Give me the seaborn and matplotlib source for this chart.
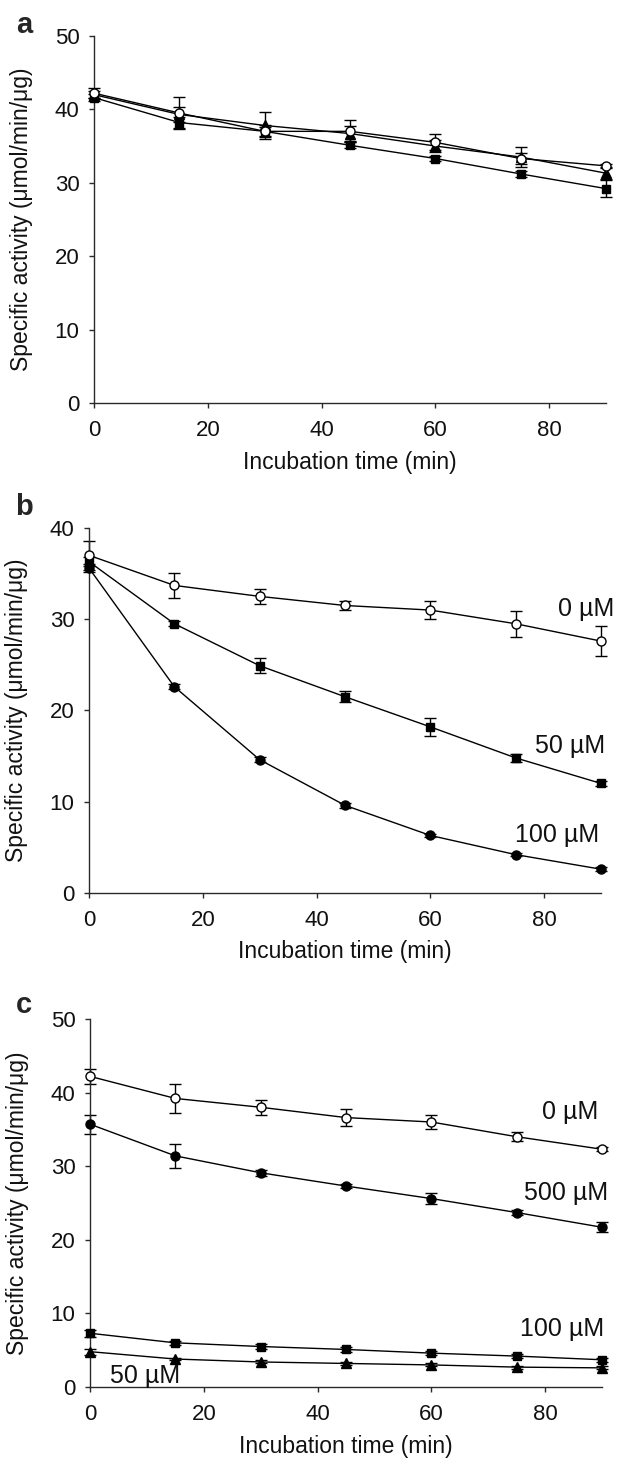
import numpy as np
import pandas as pd
import matplotlib
matplotlib.use("Agg")
import matplotlib.pyplot as plt
import seaborn as sns

# incubation time points (min)
time_min = [0, 15, 30, 45, 60, 75, 90]

# panel a: three series, all close together
a_circle = [42.2, 39.5, 37.0, 37.0, 35.5, 33.3, 32.3]
a_circle_err = [0.7, 2.2, 0.8, 1.5, 1.1, 0.8, 0.3]
a_triangle = [42.0, 39.3, 37.8, 36.7, 35.0, 33.5, 31.3]
a_triangle_err = [0.5, 1.0, 1.8, 1.0, 0.8, 1.4, 0.8]
a_square = [41.6, 38.2, 37.0, 35.1, 33.3, 31.2, 29.2]
a_square_err = [0.5, 0.8, 0.6, 0.4, 0.4, 0.4, 1.2]

# panel b: 0, 50, 100 uM
b_0 = [37.0, 33.7, 32.5, 31.5, 31.0, 29.5, 27.6]
b_0_err = [1.6, 1.4, 0.8, 0.5, 1.0, 1.4, 1.6]
b_50 = [36.3, 29.5, 24.9, 21.5, 18.2, 14.8, 12.0]
b_50_err = [0.5, 0.3, 0.8, 0.6, 1.0, 0.4, 0.3]
b_100 = [35.6, 22.6, 14.6, 9.6, 6.3, 4.2, 2.6]
b_100_err = [0.4, 0.3, 0.3, 0.3, 0.2, 0.2, 0.2]

# panel c: 0, 500, 100, 50 uM
c_0 = [42.2, 39.2, 38.0, 36.6, 36.0, 34.0, 32.3]
c_0_err = [1.0, 2.0, 1.0, 1.1, 1.0, 0.6, 0.3]
c_500 = [35.7, 31.4, 29.1, 27.3, 25.6, 23.7, 21.7]
c_500_err = [1.3, 1.6, 0.4, 0.3, 0.7, 0.3, 0.7]
c_100 = [7.3, 6.0, 5.5, 5.1, 4.6, 4.2, 3.7]
c_100_err = [0.5, 0.3, 0.3, 0.3, 0.3, 0.3, 0.3]
c_50 = [4.8, 3.8, 3.4, 3.2, 3.0, 2.7, 2.6]
c_50_err = [0.4, 0.2, 0.2, 0.2, 0.2, 0.2, 0.2]

sns.set_style("ticks")
plt.rcParams['font.family'] = ['Liberation Sans', 'DejaVu Sans']

fig = plt.figure(figsize=(6.19, 14.6), dpi=100)

# axes rectangles in figure fraction
ax_a = fig.add_axes([0.1519, 0.7240, 0.8271, 0.2514])
ax_b = fig.add_axes([0.1438, 0.3884, 0.8271, 0.2500])
ax_c = fig.add_axes([0.1454, 0.0500, 0.8271, 0.2521])

edge = "#2a2a2a"


def draw_series(ax, y, err, marker, filled):
    df = pd.DataFrame({"time": time_min, "activity": y})
    ax.errorbar(df["time"], df["activity"], yerr=err, fmt="none", ecolor="black",
                elinewidth=1.0, capsize=4, capthick=1.0, zorder=2, clip_on=False)
    sns.lineplot(data=df, x="time", y="activity", ax=ax, color="black", linewidth=1.0,
                 marker=marker, markersize=6.5 if marker != "s" else 6,
                 markerfacecolor="black" if filled else "white",
                 markeredgecolor="black", markeredgewidth=1.0, zorder=3, clip_on=False)


draw_series(ax_a, a_square, a_square_err, "s", True)
draw_series(ax_a, a_triangle, a_triangle_err, "^", True)
draw_series(ax_a, a_circle, a_circle_err, "o", False)

draw_series(ax_b, b_100, b_100_err, "o", True)
draw_series(ax_b, b_50, b_50_err, "s", True)
draw_series(ax_b, b_0, b_0_err, "o", False)

draw_series(ax_c, c_50, c_50_err, "^", True)
draw_series(ax_c, c_100, c_100_err, "s", True)
draw_series(ax_c, c_500, c_500_err, "o", True)
draw_series(ax_c, c_0, c_0_err, "o", False)

fontsize = 16
for ax, top in [(ax_a, 50), (ax_b, 40), (ax_c, 50)]:
    ax.set_xlim(0, 90)
    ax.set_ylim(0, top)
    ax.set_xticks([0, 20, 40, 60, 80])
    ax.set_yticks(np.arange(0, top + 1, 10))
    ax.spines['right'].set_visible(False)
    ax.spines['top'].set_visible(False)
    for s in ['left', 'bottom']:
        ax.spines[s].set_color(edge)
        ax.spines[s].set_linewidth(1.0)
    ax.tick_params(axis='both', direction='out', length=3.5, width=1.0, color=edge,
                   labelsize=fontsize, labelcolor="#111111")
    ax.tick_params(axis='x', pad=9)
    ax.tick_params(axis='y', pad=7)
    ax.set_xlabel("Incubation time (min)", fontsize=16.5, color="#111111")
    ax.set_ylabel("Specific activity (\u03bcmol/min/\u03bcg)", fontsize=16.5, color="#111111")
    ax.xaxis.set_label_coords(0.5, -0.13)
    ax.yaxis.set_label_coords(-0.12, 0.5)
    ax.grid(False)

# panel letters
for ypix, letter in [(25, "a"), (507, "b"), (1005, "c")]:
    fig.text(24 / 619, 1 - ypix / 1460, letter, fontsize=21, fontweight="bold",
             ha="center", va="center")

# concentration labels
lab = dict(fontsize=18, va="center", color="#111111", clip_on=False)
ax_b.text(92.4, 31.1, "0 \u00b5M", ha="right", **lab)
ax_b.text(90.7, 16.1, "50 \u00b5M", ha="right", **lab)
ax_b.text(89.6, 6.3, "100 \u00b5M", ha="right", **lab)

ax_c.text(89.3, 37.4, "0 \u00b5M", ha="right", **lab)
ax_c.text(91.0, 26.3, "500 \u00b5M", ha="right", **lab)
ax_c.text(90.3, 7.9, "100 \u00b5M", ha="right", **lab)
ax_c.text(3.5, 1.5, "50 \u00b5M", ha="left", **lab)

plt.savefig("out.png", dpi=100)
plt.close()
